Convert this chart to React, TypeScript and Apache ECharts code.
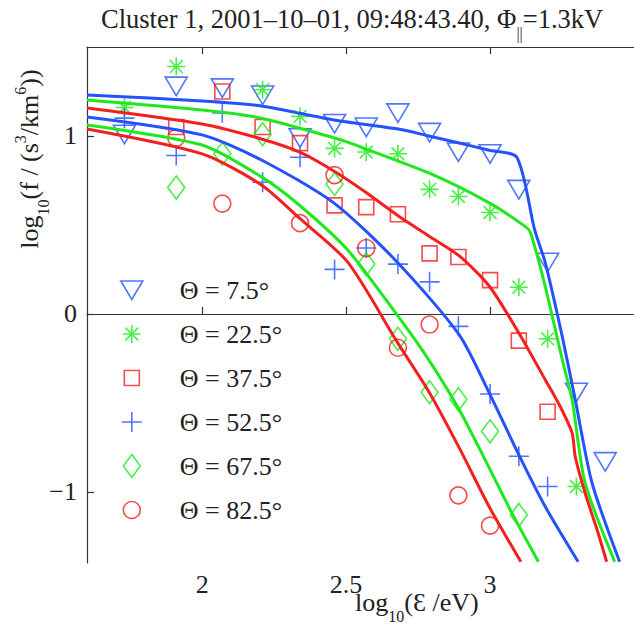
import React, { useEffect, useRef } from 'react';
import * as echarts from 'echarts';

// log10(E/eV) of the measured energy channels
const energies = [1.73, 1.91, 2.07, 2.21, 2.34, 2.46, 2.57, 2.68, 2.79, 2.89, 3.0, 3.1, 3.2, 3.3, 3.4];
// measured log10 f per pitch angle
const obs7 = [1.01, 1.28, 1.27, 1.23, 0.99, 1.07, 1.05, 1.13, 1.02, 0.91, 0.9, 0.7, 0.29, -0.44, -0.83];
const obs22 = [1.16, 1.39, null, 1.26, 1.11, 0.93, 0.91, 0.9, 0.7, 0.66, 0.57, 0.15, -0.14, -0.97, null];
const obs37 = [null, 1.05, 1.25, 1.05, 0.96, 0.61, 0.6, 0.56, 0.34, 0.32, 0.19, -0.15, -0.55, null, null];
const obs52 = [1.1, 0.89, 1.13, 0.74, 0.88, 0.25, 0.37, 0.28, 0.18, -0.07, -0.45, -0.8, -0.97, null, null];
const obs67 = [null, 0.71, 0.9, 1.01, null, 0.73, 0.28, -0.14, -0.44, -0.48, -0.66, -1.13, null, null, null];
const obs82 = [null, 0.99, 0.62, null, 0.51, 0.78, 0.37, -0.19, -0.06, -1.02, -1.19, null, null, null, null];

// model curves [log10 E, log10 f]
const fit7 = [[1.6, 1.23], [2.0, 1.197], [2.206, 1.169], [2.457, 1.09], [2.677, 1.04], [2.787, 1.0], [2.893, 0.96], [2.997, 0.92], [3.093, 0.88], [3.155, 0.472], [3.192, 0.287], [3.251, -0.129], [3.296, -0.483], [3.354, -0.949], [3.45, -1.393]];
const fit22 = [[1.6, 1.202], [2.0, 1.146], [2.206, 1.1], [2.457, 0.99], [2.505, 0.965], [2.787, 0.792], [2.997, 0.624], [3.124, 0.489], [3.141, 0.455], [3.192, 0.152], [3.251, -0.258], [3.285, -0.483], [3.33, -0.949], [3.433, -1.393]];
const fit37 = [[1.6, 1.157], [2.0, 1.067], [2.206, 0.983], [2.337, 0.91], [2.457, 0.803], [2.567, 0.685], [2.677, 0.556], [2.787, 0.438], [2.893, 0.326], [2.997, 0.157], [3.1, -0.107], [3.192, -0.371], [3.244, -0.522], [3.285, -0.669], [3.296, -0.803], [3.33, -1.006], [3.375, -1.23], [3.405, -1.393]];
const fit52 = [[1.6, 1.107], [2.0, 1.006], [2.206, 0.865], [2.457, 0.624], [2.677, 0.292], [2.893, -0.118], [2.997, -0.444], [3.1, -0.792], [3.192, -1.084], [3.306, -1.393]];
const fit67 = [[1.6, 1.062], [2.0, 0.949], [2.206, 0.77], [2.337, 0.612], [2.505, 0.36], [2.677, -0.006], [2.787, -0.258], [2.893, -0.539], [2.997, -0.865], [3.079, -1.129], [3.168, -1.393]];
const fit82 = [[1.6, 1.039], [2.0, 0.899], [2.206, 0.725], [2.337, 0.539], [2.505, 0.292], [2.677, -0.157], [2.79, -0.444], [2.893, -0.753], [2.997, -1.084], [3.107, -1.393]];

const names = ['Θ = 7.5°', 'Θ = 22.5°', 'Θ = 37.5°', 'Θ = 52.5°', 'Θ = 67.5°', 'Θ = 82.5°'];
const xTicks = [2, 2.5, 3];
const yTicks = [-1, 0, 1];

const BLUE = '#2452ff';
const GREEN = '#1fe81f';
const RED = '#f41f1f';
const FONT = 'Liberation Serif';

const PAD = 'M0,0M24,24';
const SYM = {
  tri: 'path://' + PAD + 'M1,3L23,3L12,21.5Z',
  star: 'path://' + PAD + 'M12,3L12,21M3,12L21,12M5.6,5.6L18.4,18.4M18.4,5.6L5.6,18.4',
  square: 'path://' + PAD + 'M4.5,4.5L19.5,4.5L19.5,19.5L4.5,19.5Z',
  plus: 'path://' + PAD + 'M12,2L12,22M2,12L22,12',
  diamond: 'path://' + PAD + 'M12,0.5L20.5,12L12,23.5L3.5,12Z',
  circle: 'path://' + PAD + 'M3.5,12A8.5,8.5,0,1,1,20.5,12A8.5,8.5,0,1,1,3.5,12Z',
};

export default function App() {
  const ref = useRef<HTMLDivElement>(null);
  useEffect(() => {
    if (!ref.current) return;
    const chart = echarts.init(ref.current, null, { renderer: 'svg' });
    const obsSets = [obs7, obs22, obs37, obs52, obs67, obs82];
    const fits = [fit7, fit22, fit37, fit52, fit67, fit82];
    const colors = [BLUE, GREEN, RED, BLUE, GREEN, RED];
    const syms = [SYM.tri, SYM.star, SYM.square, SYM.plus, SYM.diamond, SYM.circle];

    const scatter = obsSets.map((vals, k) => ({
      type: 'scatter',
      name: names[k],
      symbol: syms[k],
      symbolSize: 24,
      symbolKeepAspect: true,
      itemStyle: { color: 'transparent', borderColor: colors[k], borderWidth: 1.6 },
      data: energies.map((x, i) => [x, vals[i]]).filter((d) => d[1] !== null),
      z: 2,
    }));
    const lines = fits.map((pts, k) => ({
      type: 'line',
      name: 'fit' + k,
      data: pts,
      showSymbol: false,
      smooth: 0.25,
      lineStyle: { color: colors[k], width: 3 },
      itemStyle: { color: colors[k] },
      z: 3,
    }));

    const mk = (size: number) => ({
      m: { fontSize: size, lineHeight: 44, fontFamily: FONT, fill: '#222' },
      s: { fontSize: 16, lineHeight: 16, verticalAlign: 'bottom', fontFamily: FONT, fill: '#222' },
      p: { fontSize: 16, lineHeight: 16, verticalAlign: 'top', padding: [5, 0, 0, 0], fontFamily: FONT, fill: '#222' },
    });

    const axisCommon = {
      type: 'value',
      axisLine: { show: true, lineStyle: { color: '#333', width: 1.2 } },
      axisTick: { show: true, inside: true, length: 7, lineStyle: { color: '#333', width: 1.2 } },
      splitLine: { show: false },
    };

    chart.setOption({
      animation: false,
      backgroundColor: '#fff',
      textStyle: { fontFamily: FONT },
      grid: { left: 87, top: 47, width: 553, height: 516 },
      xAxis: [
        {
          ...axisCommon,
          position: 'bottom',
          min: 1.6,
          max: 3.5,
          axisTick: { ...axisCommon.axisTick, customValues: xTicks },
          axisLabel: { customValues: xTicks, margin: 8, fontSize: 26, fontFamily: FONT, color: '#222', formatter: (v: number) => String(v) },
        },
        {
          ...axisCommon,
          position: 'top',
          min: 1.6,
          max: 3.5,
          axisTick: { ...axisCommon.axisTick, customValues: xTicks },
          axisLabel: { show: false },
        },
      ],
      yAxis: {
        ...axisCommon,
        min: -1.4,
        max: 1.5,
        axisTick: { ...axisCommon.axisTick, customValues: yTicks },
        axisLabel: { customValues: yTicks, margin: 10, fontSize: 26, fontFamily: FONT, color: '#222', formatter: (v: number) => (v < 0 ? '\u2212' + Math.abs(v) : String(v)) },
      },
      legend: {
        orient: 'vertical',
        left: 119,
        top: 277,
        padding: 0,
        itemWidth: 24,
        itemHeight: 24,
        itemGap: 18,
        selectedMode: false,
        data: names,
        itemStyle: { borderWidth: 1.6 },
        textStyle: { fontSize: 26, lineHeight: 26, fontFamily: FONT, color: '#222', padding: [0, 0, 0, 31] },
      },
      graphic: [
        {
          type: 'text',
          x: 101,
          y: -3,
          style: {
            text: '{m|Cluster 1, 2001\u201310\u201301, 09:48:43.40, \u03A6}{s|||}{m|=1.3kV}',
            textAlign: 'left',
            textVerticalAlign: 'top',
            rich: mk(26.5),
          },
        },
        {
          type: 'text',
          x: 355,
          y: 580,
          style: {
            text: '{m|log}{s|10}{m|(\u0190 /eV)}',
            textAlign: 'left',
            textVerticalAlign: 'top',
            rich: mk(26),
          },
        },
        {
          type: 'text',
          x: 29,
          y: 159,
          rotation: Math.PI / 2,
          style: {
            text: '{m|log}{s|10}{m|(f / (s}{p|3}{m|/km}{p|6}{m|))}',
            textAlign: 'center',
            textVerticalAlign: 'middle',
            rich: mk(26),
          },
        },
      ],
      series: [...scatter, ...lines],
    });
    return () => chart.dispose();
  }, []);
  return <div ref={ref} style={{ position: 'fixed', left: 0, top: 0, width: 634, height: 625 }} />;
}
